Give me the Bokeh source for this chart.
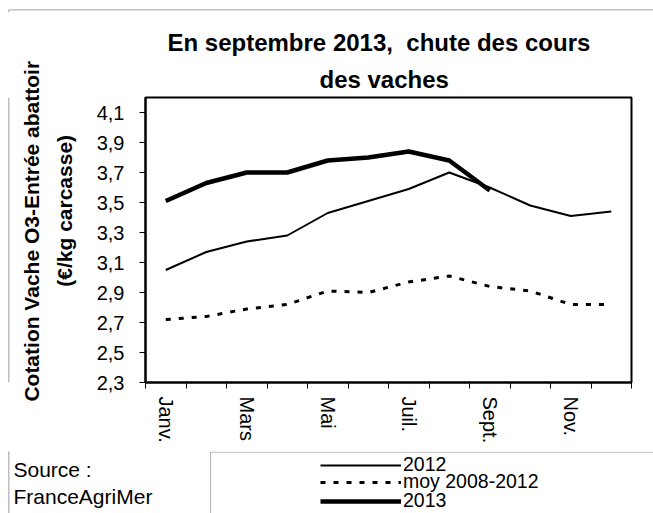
import numpy as np
from bokeh.plotting import figure
from bokeh.layouts import column, row
from bokeh.models import (Range1d, FixedTicker, CustomJSTickFormatter, Legend,
                          LegendItem, Label, BoxAnnotation, Title)
from bokeh.embed import file_html
from bokeh.resources import INLINE

months = ["Janv.", "Févr.", "Mars", "Avr.", "Mai", "Juin",
          "Juil.", "Août", "Sept.", "Oct.", "Nov.", "Déc."]
shown_months = ["Janv.", "", "Mars", "", "Mai", "", "Juil.", "", "Sept.", "", "Nov.", ""]
v2012 = [3.05, 3.17, 3.24, 3.28, 3.43, 3.51, 3.59, 3.70, 3.60, 3.48, 3.41, 3.44]
moy_2008_2012 = [2.72, 2.74, 2.79, 2.82, 2.91, 2.90, 2.97, 3.01, 2.94, 2.91, 2.82, 2.82]
v2013 = [3.51, 3.63, 3.70, 3.70, 3.78, 3.80, 3.84, 3.78, 3.58]
y_ticks = [2.3, 2.5, 2.7, 2.9, 3.1, 3.3, 3.5, 3.7, 3.9, 4.1]
series_labels = ["2012", "moy 2008-2012", "2013"]
title_lines = ["En septembre 2013,\u00a0 chute des cours", "des vaches"]
y_label_lines = ["Cotation Vache O3-Entrée abattoir", "(€/kg carcasse)"]
source_lines = ["Source :", "FranceAgriMer"]

FONT = "Liberation Sans"
W, H = 653, 513
HEAD_H, BOT_H = 12, 62
MID_H = H - HEAD_H - BOT_H
STRIP_W = 10

STYLE_2012 = dict(line_color="black", line_width=2)
STYLE_MOY = dict(line_color="black", line_width=3, line_dash="5 8")
STYLE_2013 = dict(line_color="black", line_width=4.5)
SERIES = [(v2012, STYLE_2012), (moy_2008_2012, STYLE_MOY), (v2013, STYLE_2013)]


def blank(width, height, y0, y1):
    f = figure(width=width, height=height, output_backend="svg", toolbar_location=None,
               x_range=Range1d(0, width), y_range=Range1d(y1, y0),
               x_axis_type=None, y_axis_type=None, min_border=0)
    f.title.visible = False
    f.outline_line_color = None
    f.background_fill_color = "white"
    f.border_fill_color = "white"
    return f


def frame_box(left, top, width=1.3):
    return BoxAnnotation(left=left, right=5000, top=top, bottom=5000,
                         fill_alpha=0, line_color="black", line_width=width)


# ---- header strip: top edge of the outer frame
head = blank(W, HEAD_H, 0, HEAD_H)
head.add_layout(frame_box(8.3, 9.3))

# ---- left strip: left edge of the outer frame
strip = blank(STRIP_W, MID_H, HEAD_H, HEAD_H + MID_H)
strip.add_layout(frame_box(8.3, 0))

# ---- main chart
xs = np.arange(len(months)) + 0.5
p = figure(width=W - STRIP_W, height=MID_H, output_backend="svg", toolbar_location=None,
           x_range=Range1d(0, len(months)), y_range=Range1d(2.3, 4.2),
           min_border_left=135, min_border_right=22, min_border_top=85,
           min_border_bottom=69)
p.background_fill_color = "white"
p.border_fill_color = "white"
p.outline_line_color = "black"
p.outline_line_width = 2
p.xgrid.visible = False
p.ygrid.visible = False

title_style = dict(text_font=FONT, text_font_size="24px", text_font_style="bold",
                   text_color="black", align="left")
p.title.text = title_lines[0]
p.title.offset = 22
p.title.standoff = 6
for k, v in title_style.items():
    setattr(p.title, k, v)
p.add_layout(Title(text=title_lines[1], offset=174, standoff=10, **title_style), "above")

pads = ["\u00a0" * 3, "\u00a0" * 10]
p.yaxis.ticker = FixedTicker(ticks=y_ticks)
p.yaxis.formatter = CustomJSTickFormatter(code="return tick.toFixed(1).replace('.', ',')")
p.yaxis.axis_label = "\n".join(pd + s for pd, s in zip(pads, y_label_lines))
p.yaxis.axis_label_text_font = FONT
p.yaxis.axis_label_text_font_size = "21px"
p.yaxis.axis_label_text_font_style = "bold"
p.yaxis.axis_label_text_color = "black"
p.yaxis.axis_label_text_line_height = 1.42
p.yaxis.axis_label_standoff = 18
p.yaxis.major_label_text_font = FONT
p.yaxis.major_label_text_font_size = "20px"
p.yaxis.major_label_text_color = "black"
p.yaxis.major_label_standoff = 15
p.yaxis.major_tick_out = 6
p.yaxis.major_tick_in = 0
p.yaxis.minor_tick_out = 0
p.yaxis.minor_tick_in = 0
p.yaxis.axis_line_width = 2

p.xaxis.ticker = FixedTicker(ticks=list(xs), minor_ticks=list(range(len(months) + 1)))
p.xaxis.formatter = CustomJSTickFormatter(args=dict(labels=shown_months),
                                          code="return labels[Math.floor(tick)]")
p.xaxis.major_label_orientation = "vertical"
p.xaxis.major_label_text_font = FONT
p.xaxis.major_label_text_font_size = "20px"
p.xaxis.major_label_text_color = "black"
p.xaxis.major_label_standoff = 8
p.xaxis.major_tick_out = 0
p.xaxis.major_tick_in = 0
p.xaxis.minor_tick_out = 6
p.xaxis.minor_tick_in = 0
p.xaxis.minor_tick_line_color = "black"
p.xaxis.axis_line_width = 2

for vals, st in SERIES:
    p.line(xs[:len(vals)], vals, **st)

# ---- bottom: source + legend
bot = blank(W, BOT_H, HEAD_H + MID_H, H)
bot.add_layout(frame_box(8.3, -100))
bot.add_layout(frame_box(210, 451.7, width=1))
for txt, base in zip(source_lines, [468.7, 495.7]):
    bot.add_layout(Label(x=13, y=base, text=txt, text_baseline="alphabetic",
                         text_font=FONT, text_font_size="21px", text_color="black"))

# legend samples: same series and styles (their data lie outside this strip's ranges)
keys = [bot.line(xs[:len(vals)], vals, **st) for vals, st in SERIES]
for lab, r, vy in zip(series_labels, keys, [37, 20, 1]):
    bot.add_layout(Legend(items=[LegendItem(label=lab, renderers=[r])],
                          location=(320, vy), border_line_color=None,
                          background_fill_alpha=0, padding=0, margin=0,
                          glyph_width=81, glyph_height=18, label_standoff=2,
                          label_text_font=FONT, label_text_font_size="19.5px",
                          label_text_color="black"))

layout = column(head, row(strip, p, spacing=0), bot, spacing=0)
open("out.html", "w").write(file_html(layout, INLINE))
